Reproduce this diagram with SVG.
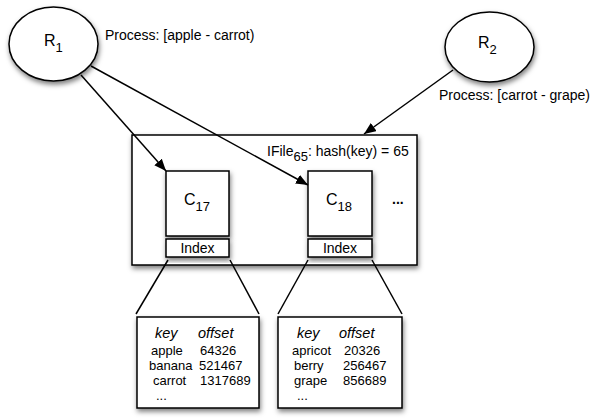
<svg xmlns="http://www.w3.org/2000/svg" width="593" height="418" viewBox="0 0 593 418">
  <defs>
    <filter id="shadow" x="-20%" y="-20%" width="140%" height="150%">
      <feDropShadow dx="1" dy="3" stdDeviation="2.5" flood-color="#000" flood-opacity="0.5"/>
    </filter>
    <marker id="arrow" viewBox="0 0 12 10" refX="12" refY="5" markerWidth="12" markerHeight="10" markerUnits="userSpaceOnUse" orient="auto">
      <path d="M0,0 L12,5 L0,10 z" fill="#000"/>
    </marker>
    <style>
      text { font-family: "Liberation Sans", Arial, sans-serif; fill: #000; }
      .shape { fill: #fff; stroke: #000; stroke-width: 1.5; filter: url(#shadow); }
      .lbl { font-size: 14px; }
      .big { font-size: 16px; }
      .sub { font-size: 13px; }
      .idx { font-size: 14px; }
      .tbl { font-size: 13px; }
      .hdr { font-size: 14.5px; font-style: italic; }
      .edge { stroke: #000; stroke-width: 1.5; fill: none; }
    </style>
  </defs>

  <!-- reader processes -->
  <g id="r1">
    <ellipse class="shape" cx="53.5" cy="44" rx="44.5" ry="37"/>
    <text class="big" x="44" y="46">R<tspan class="sub" dy="6">1</tspan></text>
    <text class="lbl" x="105" y="40">Process: [apple - carrot)</text>
  </g>
  <g id="r2">
    <ellipse class="shape" cx="489.5" cy="47" rx="44.5" ry="35"/>
    <text class="big" x="478" y="48">R<tspan class="sub" dy="6">2</tspan></text>
    <text class="lbl" x="439" y="100">Process: [carrot - grape)</text>
  </g>

  <!-- index file container -->
  <g id="ifile">
    <rect class="shape" x="132" y="135" width="285" height="130"/>
    <text class="lbl" x="267" y="156" font-size="14.5">IFile<tspan class="sub" dy="5">65</tspan><tspan dy="-5">: hash(key) = 65</tspan></text>
    <text class="lbl" x="392" y="204" font-weight="bold">...</text>
  </g>

  <!-- chunks with their index blocks -->
  <g id="c17">
    <rect class="shape" x="166" y="171" width="63" height="65"/>
    <text class="big" x="184" y="205">C<tspan class="sub" dy="6">17</tspan></text>
    <rect class="shape" x="166" y="239" width="63" height="18"/>
    <text class="idx" x="197.5" y="253" text-anchor="middle">Index</text>
  </g>
  <g id="c18">
    <rect class="shape" x="308" y="171" width="64" height="65"/>
    <text class="big" x="326" y="205">C<tspan class="sub" dy="6">18</tspan></text>
    <rect class="shape" x="308" y="239" width="64" height="18"/>
    <text class="idx" x="340" y="253" text-anchor="middle">Index</text>
  </g>

  <!-- index tables -->
  <g id="index17">
    <rect class="shape" x="137" y="317" width="122" height="91"/>
    <text class="hdr" x="155" y="338">key</text>
    <text class="hdr" x="198" y="338">offset</text>
    <text class="tbl" x="151" y="355">apple</text>
    <text class="tbl" x="200" y="355">64326</text>
    <text class="tbl" x="149" y="370">banana</text>
    <text class="tbl" x="199" y="370">521467</text>
    <text class="tbl" x="153" y="385">carrot</text>
    <text class="tbl" x="200" y="385">1317689</text>
    <text class="tbl" x="156" y="400">...</text>
  </g>
  <g id="index18">
    <rect class="shape" x="278" y="317" width="124" height="91"/>
    <text class="hdr" x="297" y="338">key</text>
    <text class="hdr" x="339" y="338">offset</text>
    <text class="tbl" x="292" y="355">apricot</text>
    <text class="tbl" x="344" y="355">20326</text>
    <text class="tbl" x="294" y="370">berry</text>
    <text class="tbl" x="343" y="370">256467</text>
    <text class="tbl" x="294" y="385">grape</text>
    <text class="tbl" x="343" y="385">856689</text>
    <text class="tbl" x="297" y="400">...</text>
  </g>

  <!-- connectors -->
  <g id="connectors">
    <line class="edge" x1="81" y1="75" x2="166" y2="171" marker-end="url(#arrow)"/>
    <line class="edge" x1="91" y1="66" x2="308" y2="185" marker-end="url(#arrow)"/>
    <line class="edge" x1="453" y1="70" x2="364" y2="134" marker-end="url(#arrow)"/>
    <line class="edge" x1="168" y1="260" x2="136" y2="314"/>
    <line class="edge" x1="230" y1="260" x2="259" y2="314"/>
    <line class="edge" x1="308" y1="260" x2="278" y2="314"/>
    <line class="edge" x1="372" y1="260" x2="402" y2="314"/>
  </g>
</svg>
